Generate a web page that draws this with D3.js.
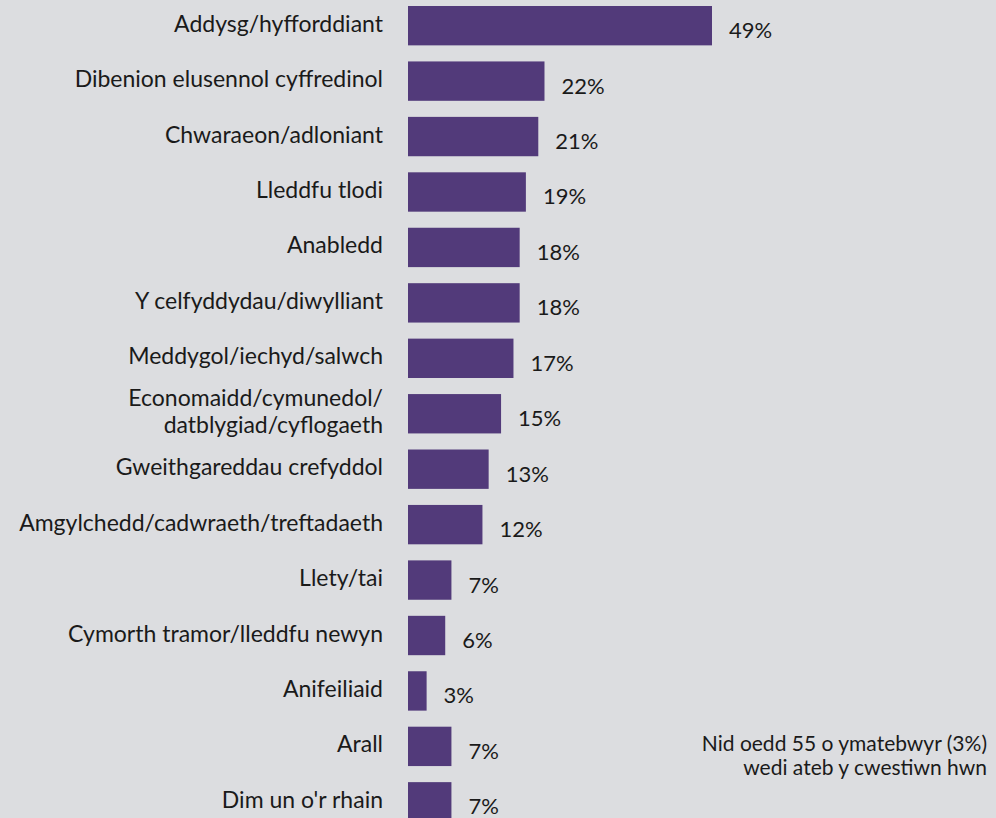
<!DOCTYPE html>
<html>
<head>
<meta charset="utf-8">
<script src="https://cdn.jsdelivr.net/npm/d3@7"></script>
<style>
  html, body { margin: 0; padding: 0; background: #dcdde0; }
  svg { display: block; }
  text { font-family: Lato, "Open Sans", sans-serif; fill: #1a1a1a; }
</style>
</head>
<body>
<svg id="chart" width="996" height="818"></svg>
<script>
// Categories (Welsh); a "\n" splits a label over two lines
const categories = [
  "Addysg/hyfforddiant",
  "Dibenion elusennol cyffredinol",
  "Chwaraeon/adloniant",
  "Lleddfu tlodi",
  "Anabledd",
  "Y celfyddydau/diwylliant",
  "Meddygol/iechyd/salwch",
  "Economaidd/cymunedol/\ndatblygiad/cyflogaeth",
  "Gweithgareddau crefyddol",
  "Amgylchedd/cadwraeth/treftadaeth",
  "Llety/tai",
  "Cymorth tramor/lleddfu newyn",
  "Anifeiliaid",
  "Arall",
  "Dim un o'r rhain"
];
const values = [49, 22, 21, 19, 18, 18, 17, 15, 13, 12, 7, 6, 3, 7, 7];
const noteLines = ["Nid oedd 55 o ymatebwyr (3%)", "wedi ateb y cwestiwn hwn"];

const svg = d3.select("#chart");

const x = d3.scaleLinear().domain([0, 49]).range([408, 712]);
const y = d3.scaleBand().domain(categories).range([6, 821.5]).paddingInner(0.29).paddingOuter(0);

const rows = svg.append("g").selectAll("g")
  .data(categories.map((c, i) => ({ c, v: values[i] })))
  .join("g");

rows.append("rect")
  .attr("x", x(0))
  .attr("y", d => y(d.c))
  .attr("width", d => x(d.v) - x(0))
  .attr("height", y.bandwidth())
  .attr("fill", "#523a7a");

rows.append("text")
  .attr("x", d => x(d.v) + 17)
  .attr("y", d => y(d.c) + y.bandwidth() / 2 + 4)
  .attr("dominant-baseline", "central")
  .attr("font-size", 22)
  .text(d => d.v + "%");

rows.append("text")
  .attr("text-anchor", "end")
  .attr("font-size", 23)
  .each(function (d) {
    const lines = d.c.split("\n");
    const mid = y(d.c) + y.bandwidth() / 2 - 3;
    const lh = 27;
    d3.select(this).selectAll("tspan")
      .data(lines)
      .join("tspan")
      .attr("x", 383)
      .attr("y", (l, i) => mid + (i - (lines.length - 1) / 2) * lh)
      .attr("dominant-baseline", "central")
      .text(l => l);
  });

svg.append("text")
  .attr("text-anchor", "end")
  .attr("font-size", 21)
  .selectAll("tspan")
  .data(noteLines)
  .join("tspan")
  .attr("x", 987)
  .attr("y", (l, i) => 742 + i * 24)
  .attr("dominant-baseline", "central")
  .text(l => l);
</script>
</body>
</html>
